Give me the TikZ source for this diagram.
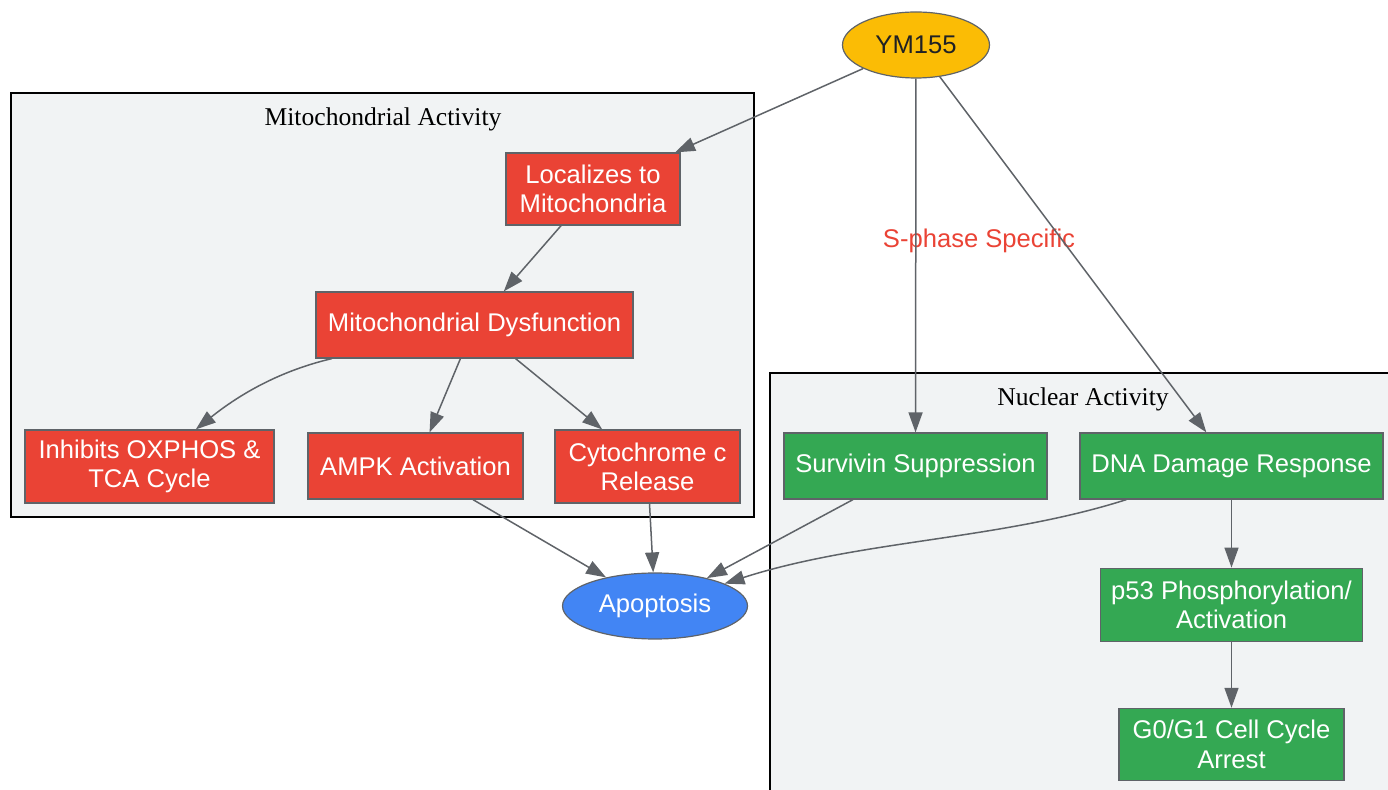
\documentclass[tikz,border=0pt]{standalone}
\usepackage{fontspec}
\setmainfont{Liberation Serif}
\setsansfont{Liberation Sans}
\usepackage{xcolor}
\usepackage{tikz}
\usetikzlibrary{positioning,shapes.geometric,arrows.meta}
\definecolor{gred}{HTML}{EA4335}
\definecolor{ggreen}{HTML}{34A853}
\definecolor{gblue}{HTML}{4285F4}
\definecolor{gyellow}{HTML}{FBBC05}
\definecolor{ggray}{HTML}{5F6368}
\definecolor{gback}{HTML}{F1F3F4}
\definecolor{gdark}{HTML}{202124}
\tikzset{red node/.style={rectangle,fill=gred,draw=ggray,line width=0.6pt,text=white,font=\sffamily\fontsize{12.8}{14.6}\selectfont,align=center,inner sep=0pt},}
\tikzset{green node/.style={rectangle,fill=ggreen,draw=ggray,line width=0.6pt,text=white,font=\sffamily\fontsize{12.8}{14.6}\selectfont,align=center,inner sep=0pt},}
\tikzset{drug node/.style={ellipse,fill=gyellow,draw=ggray,line width=0.6pt,text=gdark,font=\sffamily\fontsize{12.8}{14.6}\selectfont,inner sep=0pt,minimum width=73.5pt,minimum height=33pt},}
\tikzset{death node/.style={ellipse,fill=gblue,draw=ggray,line width=0.6pt,text=white,font=\sffamily\fontsize{12.8}{14.6}\selectfont,inner sep=0pt,minimum width=92.5pt,minimum height=33pt},}
\tikzset{cluster/.style={draw=black,fill=gback,line width=0.8pt},}
\tikzset{cluster label/.style={font=\rmfamily\fontsize{12.8}{14.6}\selectfont,inner sep=0pt},}
\tikzset{link/.style={draw=ggray,line width=0.75pt,-{Triangle[length=10pt,width=7pt]}},}

\begin{document}
\begin{tikzpicture}[x=0.5pt,y=-0.5pt]
       \clip (0,0) rectangle (1388,790);

       % compartments
       \draw[cluster] (11,93) rectangle (754,517);
       \node[cluster label] (mt) at (383,119) {Mitochondrial Activity};
       \draw[cluster] (770,373) rectangle (1400,800);
       \node[cluster label] (nc) at (1083,399) {Nuclear Activity};

       \node[drug node] (1) at (916,45) {YM155};

       \node[red node,minimum width=87pt,minimum height=36pt] (2) at (593,189) {Localizes to\\Mitochondria};
       \node[red node,minimum width=158.5pt,minimum height=33pt] (3) at (474.5,325) {Mitochondrial Dysfunction};
       \node[red node,minimum width=124.5pt,minimum height=36.5pt] (4) at (149.5,466.5) {Inhibits OXPHOS \&\\TCA Cycle};
       \node[red node,minimum width=107.5pt,minimum height=33pt] (5) at (415.5,466) {AMPK Activation};
       \node[red node,minimum width=92.5pt,minimum height=36.5pt] (6) at (647.5,466.5) {Cytochrome c\\Release};

       \node[green node,minimum width=131.5pt,minimum height=33pt] (7) at (915.5,466) {Survivin Suppression};
       \node[green node,minimum width=151.5pt,minimum height=33pt] (8) at (1231.5,466) {DNA Damage Response};
       \node[green node,minimum width=131pt,minimum height=36.5pt] (9) [below = 34pt of 8] {p53 Phosphorylation/\\Activation};
       \node[green node,minimum width=112.5pt,minimum height=36pt] (10) [below = 33pt of 9] {G0/G1 Cell Cycle\\Arrest};

       \node[death node] (11) at (655,606) {Apoptosis};

       \node[font=\sffamily\fontsize{12.8}{14.6}\selectfont,text=gred,inner sep=0pt] (12) at (979,241) {S-phase Specific};

       \draw[link] (1) -- (2);
       \draw[link] (1) -- (7);
       \draw[link] (1) -- (8);
       \draw[link] (2) -- (3);
       \draw[link] (3) .. controls (275,372) and (235,398) .. (4);
       \draw[link] (3) -- (5);
       \draw[link] (3) -- (6);
       \draw[link] (5) -- (11);
       \draw[link] (6) -- (11);
       \draw[link] (7) -- (11);
       \draw[link] (8) .. controls (1000,540) and (860,540) .. (11);
       \draw[link] (8) -- (9);
       \draw[link] (9) -- (10);
\end{tikzpicture}
\end{document}
